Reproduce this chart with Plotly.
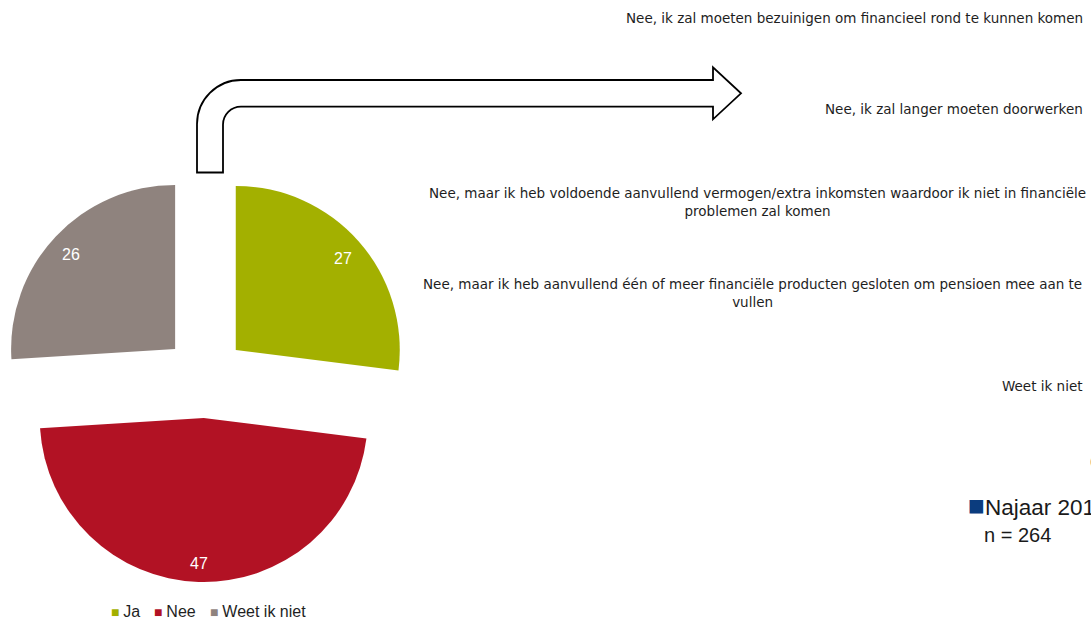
import math
import plotly.graph_objects as go

W, H = 1091, 620

# Pie data
categories = ["Ja", "Nee", "Weet ik niet"]
values = [27, 47, 26]
slice_colors = ["#A3B000", "#B21224", "#8F837E"]

# Answer categories of the follow-up question (right-hand column)
answer_labels = [
    "Nee, ik zal moeten bezuinigen om financieel rond te kunnen komen",
    "Nee, ik zal langer moeten doorwerken",
    "Nee, maar ik heb voldoende aanvullend vermogen/extra inkomsten waardoor ik niet in financiële<br>problemen zal komen",
    "Nee, maar ik heb aanvullend één of meer financiële producten gesloten om pensioen mee aan te<br>vullen",
    "Weet ik niet",
]
answer_y = [18, 109, 202, 293, 386]
answer_right = [1085, 1085, 1088, 1084, 1085]

series_name = "Najaar 2011"
series_color = "#0B3C7E"
sample_note = "n = 264"


def px(x):
    return x / W


def py(y):
    return 1 - y / H


# pie geometry (pixels)
PIE_L, PIE_R, PIE_T, PIE_B = 0, 410, 172, 582
PULL = 0.25
cx = (PIE_L + PIE_R) / 2
cy = (PIE_T + PIE_B) / 2
radius = min(PIE_R - PIE_L, PIE_B - PIE_T) / (2 + 2 * PULL)

fig = go.Figure()
fig.add_trace(go.Pie(
    labels=categories,
    values=values,
    sort=False,
    direction="clockwise",
    rotation=0,
    pull=[PULL] * len(values),
    marker=dict(colors=slice_colors, line=dict(width=0)),
    textinfo="none",
    hoverinfo="label+value",
    showlegend=False,
    domain=dict(x=[px(PIE_L), px(PIE_R)], y=[py(PIE_B), py(PIE_T)]),
))

annotations = []

# value labels near the outer edge of each exploded slice
total = sum(values)
cum = 0
for v in values:
    theta = 2 * math.pi * (cum + v / 2) / total
    cum += v
    d = radius * (PULL + 0.87)
    lx = cx + d * math.sin(theta)
    ly = cy - d * math.cos(theta) + 3  # text box centre sits a bit above the digits
    annotations.append(dict(
        x=px(lx), y=py(ly), xref="paper", yref="paper",
        text=str(v), showarrow=False,
        font=dict(family="Arial, Liberation Sans, sans-serif", size=16, color="#FFFFFF"),
        xanchor="center", yanchor="middle",
    ))

# legend row under the pie
legend_x = [109, 152, 208]
for lab, col, x0 in zip(categories, slice_colors, legend_x):
    annotations.append(dict(
        x=px(x0), y=py(611), xref="paper", yref="paper",
        text=f'<span style="color:{col};font-size:14px">■ </span>{lab}',
        showarrow=False,
        font=dict(family="Arial, Liberation Sans, sans-serif", size=16, color="#1F1F1F"),
        xanchor="left", yanchor="middle",
    ))

# answer categories on the right
for lab, yv, xr in zip(answer_labels, answer_y, answer_right):
    annotations.append(dict(
        x=px(xr), y=py(yv), xref="paper", yref="paper",
        text=lab, showarrow=False, align="center",
        font=dict(family="DejaVu Sans, sans-serif", size=13.5, color="#1E1E1E"),
        xanchor="right", yanchor="middle",
    ))

annotations.append(dict(
    x=px(1088), y=py(461), xref="paper", yref="paper",
    text="(", showarrow=False,
    font=dict(family="Arial, Liberation Sans, sans-serif", size=12, color="#444444"),
    xanchor="left", yanchor="middle",
))

# series key and sample size
annotations.append(dict(
    x=px(966), y=py(505), xref="paper", yref="paper",
    text=f'<span style="color:{series_color};font-size:28px">■</span>{series_name}',
    showarrow=False,
    font=dict(family="Arial, Liberation Sans, sans-serif", size=22.5, color="#1A1A1A"),
    xanchor="left", yanchor="middle",
))
annotations.append(dict(
    x=px(982), y=py(535), xref="paper", yref="paper",
    text=sample_note, showarrow=False,
    font=dict(family="Arial, Liberation Sans, sans-serif", size=20, color="#1A1A1A"),
    xanchor="left", yanchor="middle",
))

# bent arrow leading from the pie to the answer column
k = 0.5523
x_out, x_in = 197, 223
y_top, y_inner = 80, 106.7
y_bot = 172.5
r_out, r_in = 44, 18
x_head, x_tip = 713, 741
y_head_t, y_head_b = 67.3, 119.3
y_tip = 93.3

pts = []
pts.append(f"M{px(x_out)},{py(y_bot)}")
pts.append(f"L{px(x_out)},{py(y_top + r_out)}")
pts.append(
    f"C{px(x_out)},{py(y_top + r_out - k * r_out)} "
    f"{px(x_out + r_out - k * r_out)},{py(y_top)} "
    f"{px(x_out + r_out)},{py(y_top)}"
)
pts.append(f"L{px(x_head)},{py(y_top)}")
pts.append(f"L{px(x_head)},{py(y_head_t)}")
pts.append(f"L{px(x_tip)},{py(y_tip)}")
pts.append(f"L{px(x_head)},{py(y_head_b)}")
pts.append(f"L{px(x_head)},{py(y_inner)}")
pts.append(f"L{px(x_in + r_in)},{py(y_inner)}")
pts.append(
    f"C{px(x_in + r_in - k * r_in)},{py(y_inner)} "
    f"{px(x_in)},{py(y_inner + r_in - k * r_in)} "
    f"{px(x_in)},{py(y_inner + r_in)}"
)
pts.append(f"L{px(x_in)},{py(y_bot)}")
pts.append("Z")

fig.update_layout(
    width=W, height=H, autosize=False,
    margin=dict(l=0, r=0, t=0, b=0),
    paper_bgcolor="#FFFFFF", plot_bgcolor="#FFFFFF",
    showlegend=False,
    annotations=annotations,
    shapes=[dict(
        type="path", xref="paper", yref="paper",
        path=" ".join(pts),
        line=dict(color="#000000", width=1.8),
        fillcolor="#FFFFFF",
    )],
)

fig.write_html("out.html")
